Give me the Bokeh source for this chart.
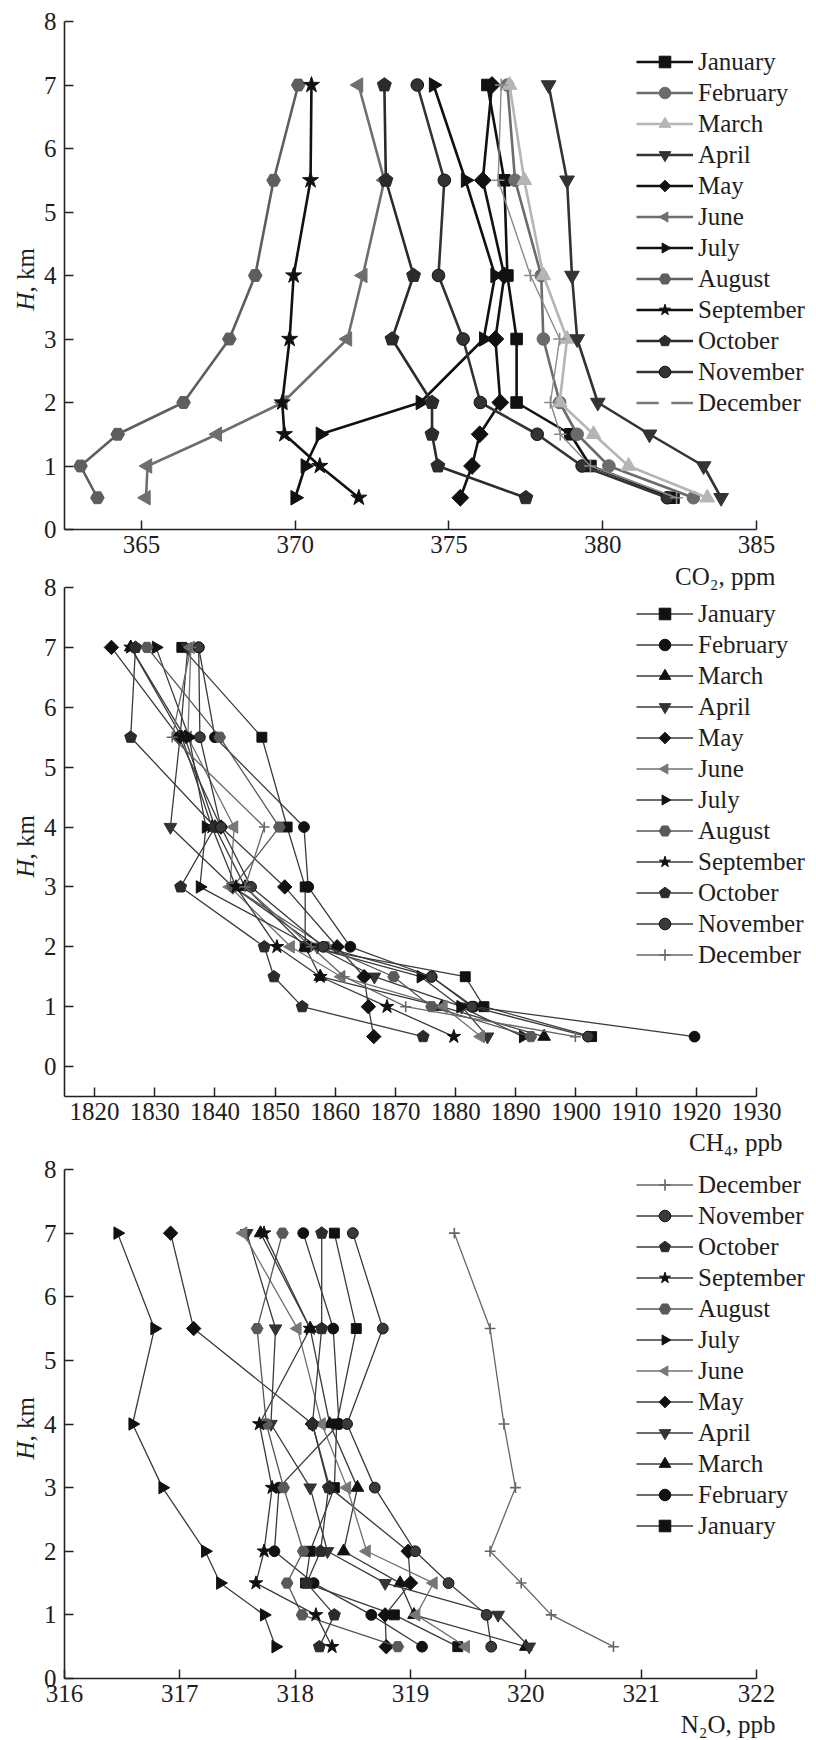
import math
from bokeh.plotting import figure
from bokeh.models import Range1d, FixedTicker, Legend, LegendItem, Label, ColumnDataSource
from bokeh.layouts import column
from bokeh.embed import file_html
from bokeh.resources import INLINE

# ---------------- data ----------------
HEIGHTS = [0.5, 1.0, 1.5, 2.0, 3.0, 4.0, 5.5, 7.0]
MONTHS = ["January", "February", "March", "April", "May", "June", "July",
          "August", "September", "October", "November", "December"]

CO2_TICKS = [365, 370, 375, 380, 385]
CH4_TICKS = [1820, 1830, 1840, 1850, 1860, 1870, 1880, 1890, 1900, 1910, 1920, 1930]
N2O_TICKS = [316, 317, 318, 319, 320, 321, 322]
H_TICKS = [0, 1, 2, 3, 4, 5, 6, 7, 8]

CO2_JAN = [382.3, 379.6, 378.95, 377.2, 377.2, 376.9, 376.8, 376.25]
CO2_FEB = [382.95, 380.2, 379.17, 378.6, 378.07, 378.0, 377.15, 376.9]
CO2_MAR = [383.4, 380.84, 379.7, 378.6, 378.84, 378.07, 377.45, 376.97]
CO2_APR = [383.85, 383.28, 381.52, 379.84, 379.17, 379.0, 378.84, 378.24]
CO2_MAY = [375.37, 375.75, 376.0, 376.67, 376.51, 376.8, 376.1, 376.4]
CO2_JUN = [365.15, 365.2, 367.47, 369.6, 371.7, 372.2, 372.9, 372.06]
CO2_JUL = [370.0, 370.33, 370.82, 374.07, 376.13, 376.5, 375.54, 374.5]
CO2_AUG = [363.57, 363.02, 364.23, 366.37, 367.86, 368.7, 369.3, 370.1]
CO2_SEP = [372.07, 370.8, 369.65, 369.58, 369.82, 369.95, 370.5, 370.53]
CO2_OCT = [377.5, 374.64, 374.45, 374.45, 373.15, 373.85, 372.95, 372.9]
CO2_NOV = [382.1, 379.33, 377.87, 376.02, 375.46, 374.66, 374.85, 373.97]
CO2_DEC = [382.4, 379.6, 378.62, 378.3, 378.6, 377.65, 376.6, 376.7]

CH4_JAN = [1902.6, 1884.7, 1881.6, 1855.0, 1855.0, 1852.0, 1847.8, 1834.5]
CH4_FEB = [1919.7, 1883.0, 1876.0, 1862.5, 1855.5, 1854.8, 1840.0, 1837.3]
CH4_MAR = [1894.7, 1877.7, 1857.5, 1855.0, 1845.0, 1840.0, 1835.0, 1826.0]
CH4_APR = [1885.3, 1881.0, 1866.5, 1857.0, 1843.0, 1832.6, 1834.2, 1835.5]
CH4_MAY = [1866.4, 1865.5, 1864.8, 1860.3, 1851.6, 1841.0, 1834.0, 1822.8]
CH4_JUN = [1884.2, 1878.0, 1861.0, 1852.6, 1842.5, 1843.2, 1835.5, 1836.0]
CH4_JUL = [1891.2, 1880.8, 1874.2, 1856.0, 1837.5, 1838.5, 1835.7, 1830.2]
CH4_AUG = [1892.5, 1876.0, 1869.7, 1858.4, 1843.0, 1850.7, 1840.8, 1828.7]
CH4_SEP = [1879.7, 1868.6, 1857.5, 1850.3, 1843.5, 1839.5, 1834.5, 1826.0]
CH4_OCT = [1874.6, 1854.5, 1849.8, 1848.2, 1834.3, 1840.0, 1826.0, 1826.8]
CH4_NOV = [1902.0, 1882.7, 1876.0, 1858.0, 1846.0, 1841.0, 1837.5, 1837.3]
CH4_DEC = [1899.9, 1871.7, 1861.5, 1856.0, 1845.0, 1848.2, 1832.9, 1836.0]

N2O_JAN = [319.41, 318.86, 318.09, 318.13, 318.34, 318.36, 318.53, 318.34]
N2O_FEB = [319.1, 318.66, 318.16, 317.82, 317.86, 318.38, 318.33, 318.07]
N2O_MAR = [320.0, 319.03, 318.91, 318.42, 318.54, 318.3, 318.13, 317.7]
N2O_APR = [320.03, 319.76, 318.78, 318.28, 318.13, 317.79, 317.83, 317.58]
N2O_MAY = [318.79, 318.78, 319.0, 318.98, 318.3, 318.15, 317.12, 316.92]
N2O_JUN = [319.48, 319.05, 319.2, 318.62, 318.45, 318.23, 318.02, 317.55]
N2O_JUL = [317.83, 317.73, 317.35, 317.22, 316.85, 316.59, 316.78, 316.46]
N2O_AUG = [318.89, 318.06, 317.93, 318.07, 317.9, 317.75, 317.67, 317.89]
N2O_SEP = [318.32, 318.18, 317.66, 317.73, 317.8, 317.69, 318.13, 317.73]
N2O_OCT = [318.21, 318.34, 318.1, 318.22, 318.29, 318.15, 318.23, 318.23]
N2O_NOV = [319.7, 319.66, 319.33, 319.04, 318.69, 318.45, 318.76, 318.5]
N2O_DEC = [320.76, 320.22, 319.96, 319.69, 319.91, 319.81, 319.69, 319.38]

CO2 = dict(zip(MONTHS, [CO2_JAN, CO2_FEB, CO2_MAR, CO2_APR, CO2_MAY, CO2_JUN,
                        CO2_JUL, CO2_AUG, CO2_SEP, CO2_OCT, CO2_NOV, CO2_DEC]))
CH4 = dict(zip(MONTHS, [CH4_JAN, CH4_FEB, CH4_MAR, CH4_APR, CH4_MAY, CH4_JUN,
                        CH4_JUL, CH4_AUG, CH4_SEP, CH4_OCT, CH4_NOV, CH4_DEC]))
N2O = dict(zip(MONTHS, [N2O_JAN, N2O_FEB, N2O_MAR, N2O_APR, N2O_MAY, N2O_JUN,
                        N2O_JUL, N2O_AUG, N2O_SEP, N2O_OCT, N2O_NOV, N2O_DEC]))

# ---------------- styles ----------------
FONT = "Liberation Serif"
FS = "25px"
INK = "#1e1e1e"

# (kind, sides-or-marker, angle, size)
MARKERS = {
    "January": ("scatter", "square", 0.0, 11),
    "February": ("scatter", "circle", 0.0, 12),
    "March": ("scatter", "triangle", 0.0, 14),
    "April": ("scatter", "inverted_triangle", 0.0, 14),
    "May": ("ngon", 4, 0.0, 16),
    "June": ("ngon", 3, math.pi / 2, 16),
    "July": ("ngon", 3, -math.pi / 2, 16),
    "August": ("scatter", "hex", 0.0, 13),
    "September": ("scatter", "star", 0.0, 16),
    "October": ("ngon", 5, 0.0, 14),
    "November": ("scatter", "circle", 0.0, 12),
    "December": ("scatter", "cross", 0.0, 12),
}

P1_COLORS = {
    "January": "#111111", "February": "#6b6b6b", "March": "#b5b5b5",
    "April": "#333333", "May": "#111111", "June": "#6e6e6e", "July": "#111111",
    "August": "#5e5e5e", "September": "#111111", "October": "#2b2b2b",
    "November": "#333333", "December": "#8a8a8a",
}
P23_MARKER_COLORS = {
    "January": "#111111", "February": "#111111", "March": "#111111",
    "April": "#333333", "May": "#111111", "June": "#777777", "July": "#111111",
    "August": "#595959", "September": "#111111", "October": "#2b2b2b",
    "November": "#3a3a3a", "December": "#666666",
}
P23_LINE_COLORS = {m: "#3a3a3a" for m in MONTHS}
P23_LINE_COLORS.update({"June": "#707070", "August": "#555555", "December": "#666666"})

W = 816          # canvas width
PX_L, PX_R = 64, 756   # pixel positions of the x-axis ends
MID = 8.4        # distance from alphabetic baseline to text middle (25px serif)


def add_marker(p, src, month, color, scale):
    kind, what, ang, size = MARKERS[month]
    size = size * scale
    line_color = "#111111" if month == "November" else color
    if kind == "ngon":
        try:
            return p.ngon(x="x", y="y", radius=size / 2.0, radius_units="screen", n=what,
                          angle=ang, source=src, fill_color=color, line_color=line_color,
                          line_width=1)
        except Exception:
            what = {3: "triangle", 4: "diamond", 5: "hex"}[what]
    lw = 1.6 if what == "cross" else 1.0
    return p.scatter(x="x", y="y", marker=what, size=size, angle=ang, source=src,
                     fill_color=color, line_color=line_color, line_width=lw)


def build(xr, ybot, xticks, height, top_px, bot_px, series, order, line_colors,
          marker_colors, lw, mscale, legend_top, xlabel, xlabel_dx, xlabel_dy, first=False):
    # frame covers the whole canvas; axes are pinned with fixed_location
    sx = (PX_R - PX_L) / (xr[1] - xr[0])
    x_start = xr[0] - PX_L / sx
    x_end = xr[1] + (W - PX_R) / sx
    sy = (bot_px - top_px) / (8 - ybot)
    y_end = 8 + top_px / sy
    y_start = ybot - (height - bot_px) / sy

    p = figure(width=W, height=height, x_range=Range1d(x_start, x_end),
               y_range=Range1d(y_start, y_end), output_backend="svg",
               toolbar_location=None, title=None, min_border=0)
    p.outline_line_color = None
    p.background_fill_color = None
    p.border_fill_color = None
    p.xgrid.visible = False
    p.ygrid.visible = False
    xa, ya = p.xaxis[0], p.yaxis[0]
    xa.fixed_location = ybot
    xa.bounds = (xr[0], xr[1])
    ya.fixed_location = xr[0]
    ya.bounds = (ybot, 8)
    for ax in (xa, ya):
        ax.axis_line_width = 1.6
        ax.axis_line_color = "#222222"
        ax.major_tick_in = 9
        ax.major_tick_out = 0
        ax.major_tick_line_width = 1.5
        ax.major_tick_line_color = "#222222"
        ax.minor_tick_line_color = None
        ax.major_label_text_font = FONT
        ax.major_label_text_font_size = FS
        ax.major_label_text_color = INK
    xa.ticker = FixedTicker(ticks=xticks)
    ya.ticker = FixedTicker(ticks=H_TICKS)
    ya.major_label_standoff = 8
    xa.major_label_standoff = 6

    rend = {}
    srcs = {}
    for m in MONTHS:
        src = ColumnDataSource(data=dict(x=series[m], y=HEIGHTS))
        srcs[m] = src
        w = lw
        if first and m == "December":
            w = 1.4
        lr = p.line(x="x", y="y", source=src, line_color=line_colors[m], line_width=w)
        mr = add_marker(p, src, m, marker_colors[m], mscale)
        rend[m] = [lr, mr]

    if first:
        # legend-only renderers (hidden in the plot): "—  —" look for December
        dl = p.line(x="x", y="y", source=srcs["December"], line_color="#777777",
                    line_width=lw, visible=False)
        dm = p.scatter(x="x", y="y", source=srcs["December"], marker="square", size=14,
                       fill_color="white", line_color="white", visible=False)
        rend["December"] = [dl, dm]

    n = len(order)
    leg_h = n * 29 + (n - 1) * 2
    items = [LegendItem(label=m, renderers=rend[m]) for m in order]
    leg = Legend(items=items, location=(636, height - (legend_top + leg_h)),
                 glyph_width=57, glyph_height=29, label_height=29, spacing=2,
                 padding=0, margin=0, border_line_color=None, background_fill_alpha=0,
                 label_text_font=FONT, label_text_font_size=FS, label_text_color=INK,
                 label_standoff=5)
    p.add_layout(leg)

    # x-axis title, right-aligned under the last tick label
    p.add_layout(Label(x=xr[1], y=ybot, x_offset=xlabel_dx, y_offset=-(xlabel_dy - MID),
                       text=xlabel, text_align="right", text_baseline="middle",
                       text_font=FONT, text_font_size=FS, text_color=INK))
    # y-axis title "H, km" with italic H
    hx = -(31 + MID)
    p.add_layout(Label(x=xr[0], y=ybot, x_offset=hx, y_offset=219, text="H",
                       angle=math.pi / 2, text_align="left", text_baseline="middle",
                       text_font=FONT, text_font_size=FS, text_font_style="italic",
                       text_color=INK))
    p.add_layout(Label(x=xr[0], y=ybot, x_offset=hx, y_offset=237, text=", km",
                       angle=math.pi / 2, text_align="left", text_baseline="middle",
                       text_font=FONT, text_font_size=FS, text_color=INK))
    return p


p1 = build((362.5, 385), 0, CO2_TICKS, 595, 21, 529, CO2, MONTHS,
           P1_COLORS, P1_COLORS, 2.6, 1.05, 47, "CO\u2082, ppm", 19, 55, first=True)
p2 = build((1815, 1930), -0.5, CH4_TICKS, 588, 17, 526, CH4, MONTHS,
           P23_LINE_COLORS, P23_MARKER_COLORS, 1.3, 0.9, 29, "CH\u2084, ppb", 26, 54)
p3 = build((316, 322), 0, N2O_TICKS, 588, 17, 526, N2O, list(reversed(MONTHS)),
           P23_LINE_COLORS, P23_MARKER_COLORS, 1.3, 0.9, 18, "N\u2082O, ppb", 19, 54)

p2.margin = (-25, 0, 0, 0)
p3.margin = (-6, 0, 0, 0)

layout = column(p1, p2, p3)
open("out.html", "w").write(file_html(layout, INLINE))
